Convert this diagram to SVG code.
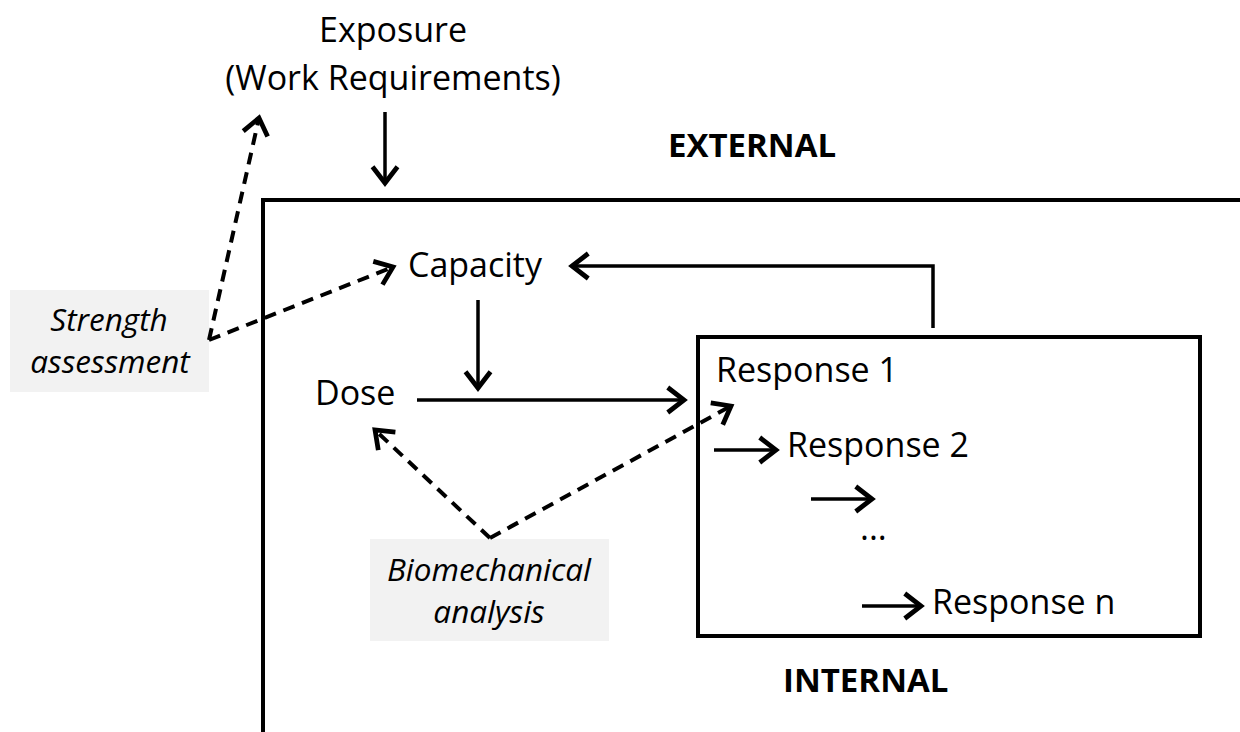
<svg xmlns="http://www.w3.org/2000/svg" width="1240" height="732" viewBox="0 0 1240 732">
  <style>
    .lbl { font-family: "Open Sans", "Noto Sans", sans-serif; font-size: 34px; fill: #000; }
    .hdr { font-family: "Open Sans", "Noto Sans", sans-serif; font-size: 33px; font-weight: bold; fill: #000; }
    .note { font-family: "Open Sans", "Noto Sans", sans-serif; font-size: 31.5px; font-style: italic; fill: #000; }
    .note-bg { fill: #f2f2f2; }
    .frame { fill: none; stroke: #000; stroke-width: 4; }
    .arrow { fill: none; stroke: #000; stroke-width: 3.5; marker-end: url(#head); }
    .dash { fill: none; stroke: #000; stroke-width: 4; stroke-dasharray: 12 8; marker-end: url(#head); }
  </style>
  <defs>
    <marker id="head" markerUnits="userSpaceOnUse" markerWidth="30" markerHeight="30" viewBox="-16 -12 20 24" refX="0" refY="0" orient="auto">
      <path d="M-13,-10 L0,0 L-13,10" fill="none" stroke="#000" stroke-width="3.8"/>
    </marker>
  </defs>

  <!-- external boundary (open to the right and bottom) -->
  <g id="external-frame">
    <path class="frame" d="M263,732 V200 H1240"/>
    <text class="hdr" x="668" y="157">EXTERNAL</text>
  </g>

  <g id="exposure">
    <text class="lbl" x="393" y="42" text-anchor="middle">Exposure</text>
    <text class="lbl" x="393" y="90" text-anchor="middle">(Work Requirements)</text>
  </g>

  <g id="capacity">
    <text class="lbl" x="408" y="277">Capacity</text>
  </g>

  <g id="dose">
    <text class="lbl" x="315" y="405">Dose</text>
  </g>

  <g id="responses">
    <rect class="frame" x="698" y="337" width="502" height="299"/>
    <text class="lbl" x="716" y="382">Response 1</text>
    <text class="lbl" x="787" y="457">Response 2</text>
    <text class="lbl" x="860" y="540">...</text>
    <text class="lbl" x="932" y="614">Response n</text>
  </g>

  <g id="internal-label">
    <text class="hdr" x="783" y="692">INTERNAL</text>
  </g>

  <g id="strength-assessment">
    <rect class="note-bg" x="10" y="290" width="199" height="102"/>
    <text class="note" x="109" y="331" text-anchor="middle">Strength</text>
    <text class="note" x="110" y="373" text-anchor="middle">assessment</text>
  </g>

  <g id="biomechanical-analysis">
    <rect class="note-bg" x="370" y="539" width="239" height="102"/>
    <text class="note" x="489" y="581" text-anchor="middle">Biomechanical</text>
    <text class="note" x="489" y="623" text-anchor="middle">analysis</text>
  </g>

  <g id="connectors">
    <!-- solid flow -->
    <path class="arrow" d="M385,112 V183"/>
    <path class="arrow" d="M478,300 V388"/>
    <path class="arrow" d="M417,400 H684"/>
    <path class="arrow" d="M933,328 V266 H572"/>
    <path class="arrow" d="M714,450 H776"/>
    <path class="arrow" d="M811,499 H872"/>
    <path class="arrow" d="M862,606 H921"/>
    <!-- dashed measurement links -->
    <path class="dash" d="M209,340 L259,118"/>
    <path class="dash" d="M209,340 L393,267"/>
    <path class="dash" d="M490,538 L375,430"/>
    <path class="dash" d="M490,538 L731,406"/>
  </g>
</svg>
